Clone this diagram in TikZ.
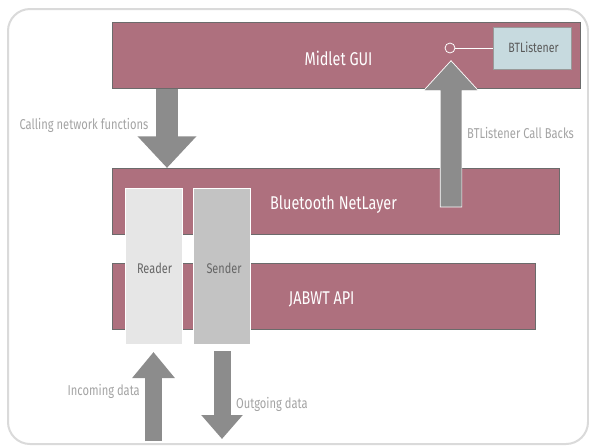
\documentclass[tikz,border=0pt]{standalone}
\usepackage{fontspec}
\setmainfont{Fira Sans}[FakeStretch=0.78]
\usetikzlibrary{arrows.meta,calc}
\definecolor{layerfill}{HTML}{AE707E}
\definecolor{layeredge}{HTML}{6B6B6B}
\definecolor{arrowgrey}{HTML}{8C8C8C}
\definecolor{notegrey}{HTML}{A3A3A3}
\definecolor{readerfill}{HTML}{E6E6E6}
\definecolor{senderfill}{HTML}{C3C3C3}
\definecolor{listenerfill}{HTML}{C7DADF}
\definecolor{framegrey}{HTML}{DADADA}
\tikzset{
  layer/.style={draw=layeredge, fill=layerfill, line width=0.8pt, inner sep=0pt},
  layertext/.style={text=white, font=\fontsize{18.5}{20}\selectfont, inner sep=0pt, anchor=base},
  worker/.style={draw=white, line width=1pt, inner sep=0pt, minimum width=57pt, minimum height=156pt},
  workertext/.style={text=black!60, font=\fontsize{14}{16}\selectfont, inner sep=0pt, anchor=base},
  note/.style={text=notegrey, font=\fontsize{14.3}{16}\selectfont, inner sep=0pt},
  bigarrow/.style={draw=arrowgrey, line width=#1},
}
\begin{document}
\begin{tikzpicture}[x=1pt,y=-1pt]
\useasboundingbox (0,0) rectangle (589,445);
% outer panel
\draw[framegrey, line width=2pt, rounded corners=22pt] (8,9) rectangle (588,444);

% layers
\node[layer, minimum width=467.3pt, minimum height=65.8pt] (gui) at (346.3,55.4) {};
\node[layertext] (guitext) at (338.5,65) {Midlet GUI};
\node[layer, minimum width=447pt, minimum height=65.7pt] (net) at (335.5,201.2) {};
\node[layertext] (nettext) at (333.5,209) {Bluetooth NetLayer};
\node[layer, minimum width=423pt, minimum height=66pt] (api) at (323.5,296) {};
\node[layertext] (apitext) at (321.7,304) {JABWT API};

% listener interface
\node[draw=black!40, fill=listenerfill, line width=0.8pt, minimum width=78pt, minimum height=42pt,
      inner sep=0pt] (listener) at (532,48) {};
\node[text=black!65, font=\fontsize{13.5}{15}\selectfont, inner sep=0pt, anchor=base]
      (listenertext) at (533.5,52.5) {BTListener};
\node[circle, draw=white, line width=0.8pt, minimum size=10pt, inner sep=0pt] (port) at (450,48) {};
\draw[white, line width=0.8pt] (port) -- (listener);

% call arrows between GUI and net layer
\coordinate (downstart) at (gui.south -| 167,0);
\coordinate (downend) at (net.north -| 167,0);
\draw[bigarrow=21.7pt, -{Triangle[width=57pt,length=31.7pt]}] (downstart) -- (downend);
\node[note, anchor=base east] (calltext) at (148.5,129) {Calling network functions};

% call-back arrow, outlined in white
\coordinate (upstart) at (451,207);
\coordinate (upend) at (451,60.7);
\draw[draw=white, line width=0.7pt, fill=arrowgrey]
  ($(upstart)+(-10.85,0)$) -- ($(upend)+(-10.85,30)$) -- ($(upend)+(-27.5,30)$) -- (upend)
  -- ($(upend)+(27.5,30)$) -- ($(upend)+(10.85,30)$) -- ($(upstart)+(10.85,0)$) -- cycle;
\node[note, anchor=base west] (backtext) at (467,138) {BTListener Call Backs};

% reader and sender threads
\node[worker, fill=readerfill] (reader) at (154.3,266) {};
\node[workertext] (readertext) at (154.5,273) {Reader};
\node[worker, fill=senderfill] (sender) at (221.5,266) {};
\node[workertext] (sendertext) at (224,273) {Sender};

% data flow
\coordinate (inbase) at (153.5,441);
\coordinate (inend) at (153.5,352);
\draw[bigarrow=17pt, -{Triangle[width=41pt,length=26pt]}] (inbase) -- (inend);
\node[note, anchor=base east] (intext) at (140,395) {Incoming data};

\coordinate (outstart) at (222,351);
\coordinate (outend) at (222,439);
\draw[bigarrow=17pt, -{Triangle[width=40pt,length=24pt]}] (outstart) -- (outend);
\node[note, anchor=base west] (outtext) at (236,408) {Outgoing data};
\end{tikzpicture}
\end{document}
